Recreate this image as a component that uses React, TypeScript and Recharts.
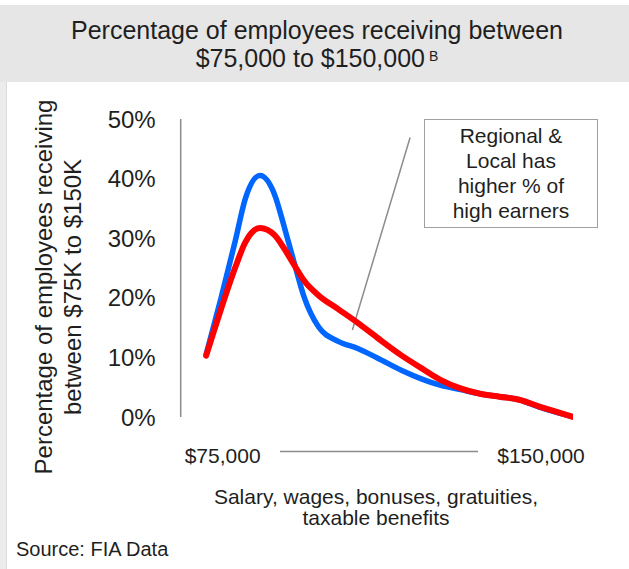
import { LineChart, Line, XAxis, YAxis, ReferenceLine } from 'recharts';

// income buckets in $K, shares in %
const incomeK = [75, 78, 81, 83, 86, 89, 91, 93, 95, 98, 102, 106, 110, 115, 119, 123, 127, 131, 135, 139, 143, 146.5, 150];
const otherShare = [10.5, 19.8, 29.7, 36.6, 40.5, 37.3, 31.8, 25.9, 20.2, 15.1, 12.7, 11.5, 9.9, 7.8, 6.4, 5.3, 4.6, 3.9, 3.4, 2.9, 1.7, 0.8, 0];
const regionalLocalShare = [10.3, 18, 25.2, 29.3, 31.7, 30.5, 28.2, 25.5, 22.9, 20.4, 18.1, 15.8, 13.3, 10.3, 8.2, 6.2, 4.8, 3.9, 3.4, 2.9, 1.8, 0.9, 0];

const xTicks = [75, 150];
const xTickLabels = ['$75,000', '$150,000'];
const yTicks = [0, 10, 20, 30, 40, 50];

const titleLines = ['Percentage of employees receiving between', '$75,000 to $150,000'];
const yTitleLines = ['Percentage of employees receiving', 'between $75K to $150K'];
const xTitleLines = ['Salary, wages, bonuses, gratuities,', 'taxable benefits'];
const noteLines = ['Regional &', 'Local has', 'higher % of', 'high earners'];

const rows = incomeK.map((income, i) => ({
  income,
  other: otherShare[i],
  regionalLocal: regionalLocalShare[i],
}));

const FONT = '"Liberation Sans", Arial, sans-serif';
const INK = '#1f1f1f';
const AXIS_GREY = '#8c8c8c';

interface TickProps {
  x?: number;
  y?: number;
  index?: number;
}

const IncomeTick = ({ x = 0, y = 0, index = 0 }: TickProps) => {
  const dx = index === 0 ? 16.5 : -32;
  return (
    <text x={x + dx} y={y} dy="0.71em" textAnchor="middle" fontSize={21} fill={INK} fontFamily={FONT}>
      {xTickLabels[index]}
    </text>
  );
};

export default function App() {
  return (
    <div style={{ position: 'relative', width: 629, height: 569, background: '#fff', overflow: 'hidden', fontFamily: FONT, color: INK }}>
      <style>{'body{margin:0}'}</style>

      <div style={{ position: 'absolute', left: 0, top: 5, width: 629, height: 77, background: '#e6e6e6' }} />
      <div style={{ position: 'absolute', left: 0, top: 82, width: 6, height: 487, background: '#ececec', borderRight: '1px solid #dcdcdc' }} />

      <div style={{ position: 'absolute', left: 0, top: 16, width: 634, textAlign: 'center', fontSize: 25, lineHeight: '28px' }}>
        <div>{titleLines[0]}</div>
        <div>
          {titleLines[1]}
          <sup style={{ fontSize: 14, marginLeft: 4, verticalAlign: 'top', position: 'relative', top: -2 }}>B</sup>
        </div>
      </div>

      <LineChart
        width={629}
        height={569}
        data={rows}
        margin={{ top: 119, right: 56, bottom: 112, left: 0 }}
        style={{ position: 'absolute', left: 0, top: 0 }}
      >
        <XAxis
          type="number"
          dataKey="income"
          domain={[69.8, 150]}
          allowDataOverflow
          ticks={xTicks}
          interval={0}
          axisLine={false}
          tickLine={false}
          tickSize={0}
          tickMargin={31}
          height={40}
          tick={<IncomeTick />}
        />
        <YAxis
          domain={[0, 50]}
          ticks={yTicks}
          interval={0}
          tickFormatter={(v: number) => `${v}%`}
          axisLine={{ stroke: AXIS_GREY, strokeWidth: 1.5 }}
          tickLine={false}
          tickSize={0}
          tickMargin={25}
          width={180.7}
          tick={{ fontSize: 24, fill: INK, fontFamily: FONT }}
        />
        <ReferenceLine
          segment={[{ x: 90.1, y: -5.8 }, { x: 130.6, y: -5.8 }]}
          stroke={AXIS_GREY}
          strokeWidth={1.5}
          ifOverflow="visible"
        />
        <ReferenceLine
          segment={[{ x: 116.7, y: 46.9 }, { x: 104.9, y: 14.6 }]}
          stroke={AXIS_GREY}
          strokeWidth={1.5}
          ifOverflow="visible"
        />
        <Line
          type="monotone"
          dataKey="other"
          stroke="#0066ff"
          strokeWidth={5.5}
          strokeLinecap="round"
          strokeLinejoin="round"
          dot={false}
          isAnimationActive={false}
        />
        <Line
          type="monotone"
          dataKey="regionalLocal"
          stroke="#ff0000"
          strokeWidth={6}
          strokeLinecap="round"
          strokeLinejoin="round"
          dot={false}
          isAnimationActive={false}
        />
      </LineChart>

      <div
        style={{
          position: 'absolute',
          left: 57.5 - 200,
          top: 287 - 29,
          width: 400,
          height: 58,
          textAlign: 'center',
          fontSize: 24,
          lineHeight: '29px',
          transform: 'rotate(-90deg)',
          transformOrigin: 'center',
          whiteSpace: 'nowrap',
        }}
      >
        {yTitleLines.map((t) => (
          <div key={t}>{t}</div>
        ))}
      </div>

      <div
        style={{
          position: 'absolute',
          left: 424,
          top: 119,
          width: 172,
          height: 104,
          border: '1.5px solid #a0a0a0',
          paddingTop: 3,
          textAlign: 'center',
          fontSize: 21,
          lineHeight: '25px',
        }}
      >
        {noteLines.map((t) => (
          <div key={t}>{t}</div>
        ))}
      </div>

      <div style={{ position: 'absolute', left: 176, top: 486, width: 400, textAlign: 'center', fontSize: 21, lineHeight: '21px' }}>
        {xTitleLines.map((t) => (
          <div key={t}>{t}</div>
        ))}
      </div>

      <div style={{ position: 'absolute', left: 16, top: 537, fontSize: 20, lineHeight: '24px' }}>Source: FIA Data</div>
    </div>
  );
}
